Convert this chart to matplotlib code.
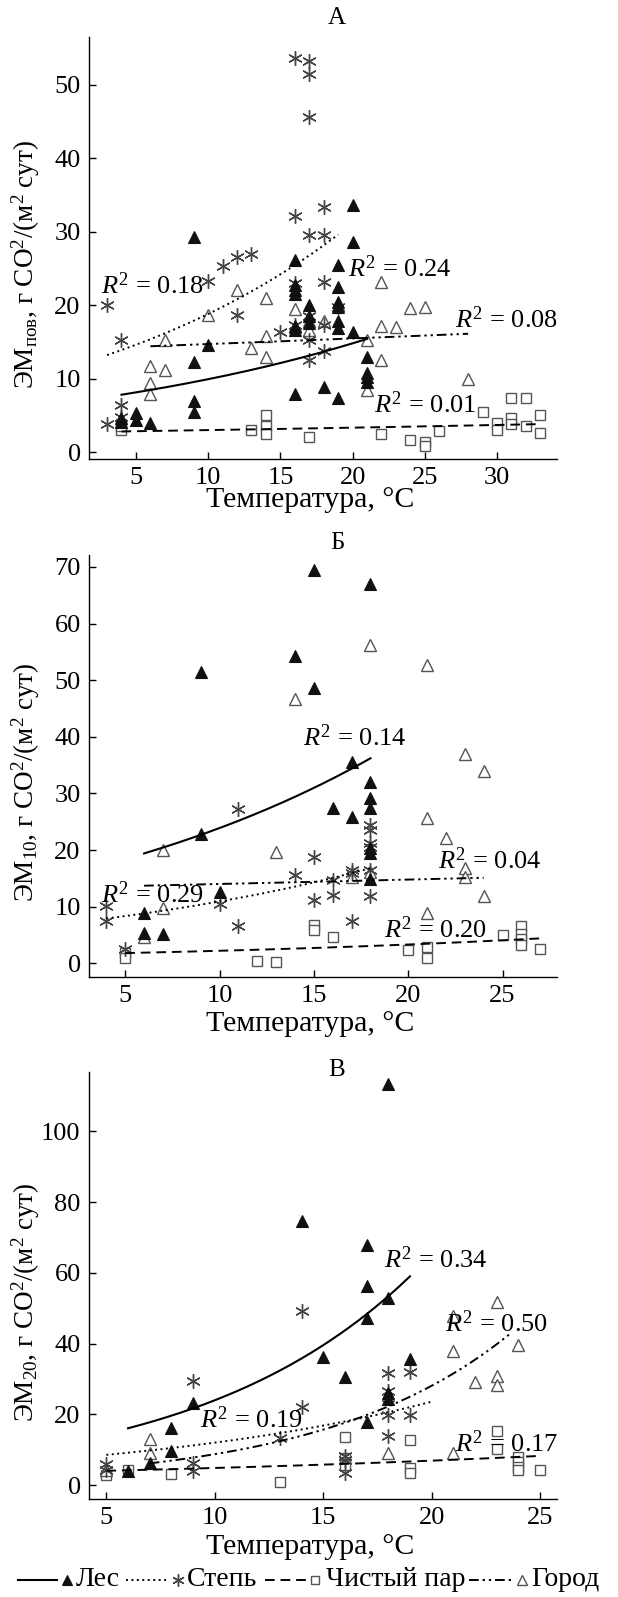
import numpy as np
import matplotlib
matplotlib.use('Agg')
import matplotlib.pyplot as plt
from matplotlib.lines import Line2D

plt.rcParams['font.family'] = ['Liberation Serif', 'DejaVu Serif']
plt.rcParams['mathtext.fontset'] = 'custom'
plt.rcParams['mathtext.rm'] = 'Liberation Serif'
plt.rcParams['mathtext.it'] = 'Liberation Serif:italic'
plt.rcParams['mathtext.bf'] = 'Liberation Serif:bold'

series_names = ['Лес', 'Степь', 'Чистый пар', 'Город']

# ---------------- Panel A (surface) ----------------
A_les_x = [9, 20, 20, 16, 19, 16, 16, 19, 17, 19, 19, 17, 16, 16, 19, 19, 20, 10, 9, 9, 9, 16, 18, 19, 21, 21, 21, 21, 4, 4, 5, 5, 6, 16, 17]
A_les_y = [29.3, 33.6, 28.6, 26.2, 25.5, 22.8, 22.1, 22.5, 20.0, 20.4, 19.8, 18.5, 17.1, 16.6, 17.8, 16.9, 16.3, 14.6, 12.3, 7.0, 5.4, 7.9, 8.8, 7.3, 12.9, 10.7, 10.2, 9.6, 4.6, 4.1, 5.3, 4.4, 3.9, 21.5, 17.5]
A_step_x = [16, 17, 17, 17, 16, 18, 17, 18, 13, 12, 11, 10, 16, 18, 3, 4, 4, 4, 3, 12, 15, 16, 17, 17, 17, 18, 18, 19]
A_step_y = [53.7, 53.2, 51.4, 45.6, 32.1, 33.4, 29.6, 29.6, 26.9, 26.6, 25.3, 23.3, 23.0, 23.2, 20.0, 15.2, 6.4, 4.7, 3.8, 18.6, 16.3, 17.3, 18.5, 15.3, 12.5, 17.3, 13.7, 19.8]
A_par_x = [4, 4, 13, 14, 14, 14, 17, 22, 24, 25, 25, 26, 29, 30, 30, 31, 31, 31, 32, 32, 33, 33]
A_par_y = [3.0, 3.5, 3.0, 5.0, 3.5, 2.5, 2.0, 2.5, 1.7, 1.4, 0.8, 2.8, 5.5, 4.0, 3.0, 7.4, 4.6, 3.8, 7.4, 3.5, 5.0, 2.6]
A_city_x = [12, 14, 22, 10, 7, 6, 7, 6, 6, 13, 14, 14, 16, 17, 18, 17, 21, 21, 22, 22, 23, 24, 25, 28, 16]
A_city_y = [22.0, 21.0, 23.1, 18.6, 15.2, 11.7, 11.2, 9.4, 7.9, 14.1, 15.8, 13.0, 19.5, 17.8, 17.8, 16.6, 15.3, 8.5, 17.2, 12.5, 17.0, 19.6, 19.8, 10.0, 17.0]
# trend endpoints (x0, y0, x1, y1)
A_trend = {'Лес': (4, 7.8, 21, 15.4), 'Степь': (3, 13.2, 19, 29.6),
           'Чистый пар': (4, 2.8, 33, 3.8), 'Город': (6, 14.4, 28, 16.1)}
A_r2_text = ['0.18', '0.24', '0.08', '0.01']
A_r2_pos = [(2.55, 22.7), (19.7, 25.0), (27.1, 18.0), (21.5, 6.4)]

# ---------------- Panel B (10 cm) ----------------
B_les_x = [15, 18, 14, 9, 15, 17, 18, 18, 18, 16, 17, 9, 18, 18, 18, 10, 6, 6, 7]
B_les_y = [69.5, 66.9, 54.3, 51.4, 48.6, 35.5, 32.1, 29.1, 27.4, 27.4, 25.9, 22.8, 20.3, 19.5, 14.8, 12.5, 8.8, 5.3, 5.2]
B_step_x = [11, 15, 14, 16, 17, 17, 18, 18, 18, 18, 18, 15, 16, 17, 11, 10, 4, 4, 5, 18]
B_step_y = [27.2, 18.7, 15.6, 14.7, 16.5, 16.0, 24.4, 23.5, 21.2, 20.6, 11.8, 11.2, 12.1, 7.4, 6.5, 10.5, 10.1, 7.5, 2.6, 16.5]
B_par_x = [5, 5, 12, 13, 15, 15, 16, 20, 21, 21, 25, 26, 26, 26, 26, 27]
B_par_y = [1.8, 0.9, 0.4, 0.3, 6.8, 5.8, 4.7, 2.4, 2.9, 1.0, 5.0, 6.5, 5.2, 4.2, 3.2, 2.5]
B_city_x = [18, 21, 14, 23, 24, 21, 22, 13, 7, 23, 23, 18, 24, 21, 7, 6, 17]
B_city_y = [56.2, 52.6, 46.7, 37.0, 34.0, 25.6, 22.2, 19.7, 20.0, 16.9, 15.2, 16.2, 11.8, 8.9, 9.8, 4.7, 15.2]
B_trend = {'Лес': (6, 19.4, 18, 36.2), 'Степь': (4, 7.9, 18, 16.8),
           'Чистый пар': (5, 1.8, 27, 4.4), 'Город': (6, 13.7, 24, 15.1)}
B_r2_text = ['0.14', '0.04', '0.29', '0.20']
B_r2_pos = [(14.4, 39.8), (21.6, 18.1), (3.7, 12.1), (18.7, 6.0)]

# ---------------- Panel C (20 cm) ----------------
C_les_x = [18, 14, 17, 17, 18, 17, 15, 19, 16, 18, 18, 17, 9, 8, 8, 7, 6]
C_les_y = [113.4, 74.6, 68.0, 56.3, 52.8, 47.2, 36.1, 35.8, 30.6, 24.3, 26.0, 18.0, 23.3, 16.1, 9.8, 6.4, 4.1]
C_step_x = [14, 18, 19, 9, 14, 18, 18, 18, 19, 13, 16, 16, 16, 9, 9, 5, 5]
C_step_y = [49.2, 31.6, 32.1, 29.5, 22.2, 26.7, 19.9, 13.9, 19.9, 13.3, 8.3, 7.2, 3.4, 6.4, 3.9, 6.0, 4.3]
C_par_x = [5, 6, 8, 13, 16, 16, 16, 19, 19, 19, 23, 23, 24, 24, 24, 24, 25]
C_par_y = [2.9, 4.3, 3.2, 1.0, 13.6, 7.6, 5.7, 12.8, 4.8, 3.4, 15.2, 10.2, 8.1, 6.7, 5.3, 4.3, 4.3]
C_city_x = [23, 21, 21, 24, 23, 22, 23, 18, 21, 7, 7, 5, 18]
C_city_y = [51.9, 47.8, 38.0, 39.6, 30.9, 29.3, 28.3, 9.0, 9.0, 13.0, 9.0, 4.3, 25.5]
C_trend = {'Лес': (6, 16.1, 19, 59.0), 'Степь': (5, 8.6, 20, 23.6),
           'Чистый пар': (5, 4.1, 25, 8.3), 'Город': (7, 6.2, 23.6, 42.7)}
C_r2_text = ['0.34', '0.50', '0.19', '0.17']
C_r2_pos = [(17.8, 63.7), (20.6, 45.7), (9.3, 18.4), (21.1, 11.9)]

panel_titles = ['А', 'Б', 'В']
ylabels = [r'ЭМ$_{\mathrm{пов}}$, г CO$^2$/(м$^2$ сут)',
           r'ЭМ$_{10}$, г CO$^2$/(м$^2$ сут)',
           r'ЭМ$_{20}$, г CO$^2$/(м$^2$ сут)']
xlabel = 'Температура, °C'

# ---------------- styles ----------------
ASTER = (6, 2, 0)
mstyle = {
    'Лес': dict(marker='^', ms=8.5, mfc='#111111', mec='#111111', mew=0.8),
    'Степь': dict(marker=ASTER, ms=10.5, mfc='#444444', mec='#444444', mew=1.0),
    'Чистый пар': dict(marker='s', ms=6.5, mfc='white', mec='#555555', mew=1.0),
    'Город': dict(marker='^', ms=9, mfc='white', mec='#555555', mew=1.0),
}
lstyle = {
    'Лес': dict(ls='-', lw=1.5),
    'Степь': dict(ls=(0, (1.0, 1.8)), lw=1.4),
    'Чистый пар': dict(ls=(0, (5, 3)), lw=1.4),
    'Город': dict(ls=(0, (5, 2, 1.2, 2, 1.2, 2)), lw=1.4),
}

W, H = 618, 1597
fig = plt.figure(figsize=(W / 100, H / 100), dpi=100)

def fr(px_left, px_top, px_right, px_bottom):
    return [px_left / W, 1 - px_bottom / H, (px_right - px_left) / W, (px_bottom - px_top) / H]

panels = [
    dict(rect=fr(89, 37, 556.5, 459), xlim=(1.75, 34.12), ylim=(-0.95, 56.5),
         xt=[5, 10, 15, 20, 25, 30], yt=[0, 10, 20, 30, 40, 50],
         data={'Лес': (A_les_x, A_les_y), 'Степь': (A_step_x, A_step_y),
               'Чистый пар': (A_par_x, A_par_y), 'Город': (A_city_x, A_city_y)},
         trend=A_trend, r2t=A_r2_text, r2p=A_r2_pos, title_y=18, xlab_y=500),
    dict(rect=fr(89, 555, 556.5, 976.7), xlim=(3.08, 27.86), ylim=(-2.37, 72.1),
         xt=[5, 10, 15, 20, 25], yt=[0, 10, 20, 30, 40, 50, 60, 70],
         data={'Лес': (B_les_x, B_les_y), 'Степь': (B_step_x, B_step_y),
               'Чистый пар': (B_par_x, B_par_y), 'Город': (B_city_x, B_city_y)},
         trend=B_trend, r2t=B_r2_text, r2p=B_r2_pos, title_y=543, xlab_y=1024),
    dict(rect=fr(89, 1071.7, 556.5, 1499), xlim=(4.2, 25.76), ylim=(-3.87, 116.8),
         xt=[5, 10, 15, 20, 25], yt=[0, 20, 40, 60, 80, 100],
         data={'Лес': (C_les_x, C_les_y), 'Степь': (C_step_x, C_step_y),
               'Чистый пар': (C_par_x, C_par_y), 'Город': (C_city_x, C_city_y)},
         trend=C_trend, r2t=C_r2_text, r2p=C_r2_pos, title_y=1070, xlab_y=1547),
]

FS_TICK = 19
FS_YLAB = 19.5
FS_XLAB = 21.5
FS_TITLE = 18
FS_TXT = 19
FS_LEG = 20

for i, p in enumerate(panels):
    ax = fig.add_axes(p['rect'])
    for name in ['Чистый пар', 'Город', 'Степь', 'Лес']:
        xs, ys = p['data'][name]
        ax.plot(xs, ys, ls='none', zorder=3, **mstyle[name])
    for name in series_names:
        x0, y0, x1, y1 = p['trend'][name]
        b = np.log(y1 / y0) / (x1 - x0)
        xx = np.linspace(x0, x1, 200)
        ax.plot(xx, y0 * np.exp(b * (xx - x0)), color='black', zorder=4, **lstyle[name])
    for t, (tx, ty) in zip(p['r2t'], p['r2p']):
        ax.text(tx, ty, r'$R^2$ = ' + t, fontsize=FS_TXT, ha='left', va='center', zorder=5)
    ax.set_xlim(*p['xlim'])
    ax.set_ylim(*p['ylim'])
    ax.set_xticks(p['xt'])
    ax.set_yticks(p['yt'])
    for s in ['top', 'right']:
        ax.spines[s].set_visible(False)
    for s in ['left', 'bottom']:
        ax.spines[s].set_linewidth(1.0)
    ax.tick_params(direction='in', length=5, width=1.0, labelsize=FS_TICK, pad=6)
    ax.set_ylabel(ylabels[i], fontsize=FS_YLAB)
    ax.yaxis.set_label_coords(-0.10, 0.46)
    fig.text(337 / W, 1 - p['title_y'] / H, panel_titles[i], fontsize=FS_TITLE,
             ha='center', va='center')
    fig.text(310 / W, 1 - p['xlab_y'] / H, xlabel, fontsize=FS_XLAB, ha='center', va='center')

# ---------------- legend strip ----------------
lax = fig.add_axes([0, 1 - 1597 / H, 1, 34 / H])
lax.set_xlim(0, W)
lax.set_ylim(0, 1)
lax.axis('off')
leg_layout = {'Лес': (18, 57, 67, 76), 'Степь': (126, 166, 178, 187),
              'Чистый пар': (265, 308, 315, 326), 'Город': (469, 512, 522, 531)}
for name in series_names:
    l0, l1, mx, tx = leg_layout[name]
    lax.add_line(Line2D([l0, l1], [0.5, 0.5], color='black', **lstyle[name]))
    st = dict(mstyle[name])
    st['ms'] = st['ms'] * 0.85
    lax.add_line(Line2D([mx], [0.5], ls='none', **st))
    lax.text(tx, 0.5, name, fontsize=FS_LEG, ha='left', va='center')

fig.savefig('out.png', dpi=100)
